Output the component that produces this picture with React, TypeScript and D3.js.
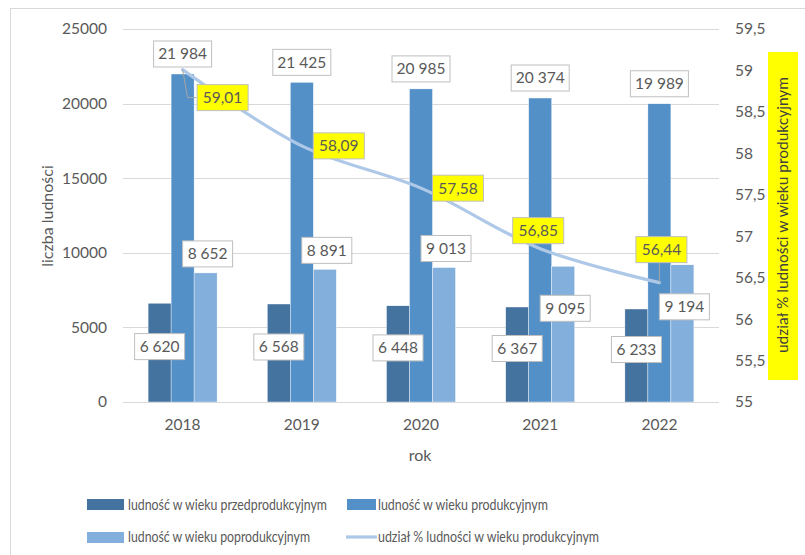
import React from "react";
import * as d3 from "d3";

const years = ["2018", "2019", "2020", "2021", "2022"];
const preProd = [6620, 6568, 6448, 6367, 6233];
const prod = [21984, 21425, 20985, 20374, 19989];
const postProd = [8652, 8891, 9013, 9095, 9194];
const prodShare = [59.01, 58.09, 57.58, 56.85, 56.44];
const leftTicks = [0, 5000, 10000, 15000, 20000, 25000];
const rightTicks = [55, 55.5, 56, 56.5, 57, 57.5, 58, 58.5, 59, 59.5];
const seriesNames = [
  "ludność w wieku przedprodukcyjnym",
  "ludność w wieku produkcyjnym",
  "ludność w wieku poprodukcyjnym",
  "udział % ludności w wieku produkcyjnym",
];
const leftTitle = "liczba ludności";
const rightTitle = "udział % ludności w wieku produkcyjnym";
const xTitle = "rok";

// styling / label placement (not data)
const sharePlacement = ["rightBelow", "right", "right", "above", "aboveFar"];
const postInside = [false, false, false, true, true];
const legendTextWidths = [199, 170, 182, 221];

const FONT = "Lato, 'Open Sans', sans-serif";
const TXT = "#595959";
const C_DARK = "#44739f";
const C_MID = "#5490c8";
const C_LIGHT = "#83afdc";
const C_LINE = "#aec8e8";
const GRID = "#d9d9d9";

const fmtInt = (v: number) =>
  String(v).replace(/\B(?=(\d{3})+(?!\d))/g, " ");
const fmtDec = (v: number, d: number) => v.toFixed(d).replace(".", ",");
const fmtTick = (v: number) => (Number.isInteger(v) ? String(v) : fmtDec(v, 1));

function LabelBox({ cx, cy, text, fill = "#fff", w }: { cx: number; cy: number; text: string; fill?: string; w?: number }) {
  const width = w ?? text.length * 8.2 + 10;
  const h = 26;
  return (
    <g>
      <rect x={cx - width / 2} y={cy - h / 2} width={width} height={h} fill={fill} stroke="#bfbfbf" strokeWidth={1} />
      <text x={cx} y={cy} dy="0.35em" textAnchor="middle" fontSize={15.5} fill={TXT} fontFamily={FONT}>
        {text}
      </text>
    </g>
  );
}

export default function App() {
  const W = 805, H = 555;
  const x = d3.scaleBand<string>().domain(years).range([123, 719]);
  const yL = d3.scaleLinear().domain([0, 25000]).range([402, 29]);
  const yR = d3.scaleLinear().domain([55, 59.5]).range([402, 29]);
  const bw = 23;
  const cx = (i: number) => (x(years[i]) as number) + x.bandwidth() / 2;
  const series = [preProd, prod, postProd];
  const colors = [C_DARK, C_MID, C_LIGHT];

  const linePts: [number, number][] = prodShare.map((v, i) => [cx(i), yR(v)]);
  const lineGen = d3.line().curve(d3.curveCatmullRom.alpha(0.5));
  const leg = (i: number) => ({ fontSize: 14.5, textLength: legendTextWidths[i], lengthAdjust: "spacingAndGlyphs" });

  return (
    <svg width={W} height={H} style={{ position: "absolute", left: 0, top: 0 }} fontFamily={FONT}>
      <rect x={0} y={0} width={W} height={H} fill="#fff" />
      <rect x={10.5} y={8.5} width={W} height={H} fill="none" stroke={GRID} strokeWidth={1} />
      {/* gridlines */}
      {leftTicks.map((t) => (
        <line key={t} x1={123} x2={719} y1={Math.round(yL(t)) + 0.5} y2={Math.round(yL(t)) + 0.5} stroke={GRID} strokeWidth={1} />
      ))}
      {/* left ticks */}
      {leftTicks.map((t) => (
        <text key={"l" + t} x={107} y={yL(t)} dy="0.35em" textAnchor="end" fontSize={15.5} fill={TXT}>
          {t}
        </text>
      ))}
      {/* right ticks */}
      {rightTicks.map((t) => (
        <text key={"r" + t} x={735} y={yR(t)} dy="0.35em" textAnchor="start" fontSize={15.5} fill={TXT}>
          {fmtTick(t)}
        </text>
      ))}
      {/* x ticks */}
      {years.map((yv, i) => (
        <text key={yv} x={cx(i)} y={425} dy="0.35em" textAnchor="middle" fontSize={15.5} fill={TXT}>
          {yv}
        </text>
      ))}
      {/* bars */}
      {series.map((s, si) =>
        s.map((v, i) => (
          <rect key={si + "-" + i} x={cx(i) + (si - 1.5) * bw} y={yL(v)} width={bw} height={yL(0) - yL(v)} fill={colors[si]} stroke="#fff" strokeWidth={0.4} />
        ))
      )}
      {/* line */}
      <path d={lineGen(linePts) || ""} fill="none" stroke={C_LINE} strokeWidth={3.2} strokeLinecap="round" />
      {/* leader lines */}
      {prodShare.map((v, i) => {
        const [px, py] = linePts[i];
        if (sharePlacement[i] === "rightBelow")
          return <polyline key={"ld" + i} points={`${px},${py} ${px + 5},${py + 28} ${px + 14},${py + 28}`} fill="none" stroke="#a6a6a6" strokeWidth={1} />;
        if (sharePlacement[i] === "aboveFar")
          return <line key={"ld" + i} x1={px} x2={px} y1={py} y2={py - 20} stroke="#a6a6a6" strokeWidth={1} />;
        return null;
      })}
      {/* axis baseline */}
      <line x1={123} x2={719} y1={402.5} y2={402.5} stroke={GRID} strokeWidth={1} />
      {/* data labels: pre */}
      {preProd.map((v, i) => (
        <LabelBox key={"pl" + i} cx={cx(i) - bw} cy={(yL(v) + yL(0)) / 2 - 6} text={fmtInt(v)} w={50} />
      ))}
      {/* prod */}
      {prod.map((v, i) => (
        <LabelBox key={"ml" + i} cx={cx(i)} cy={yL(v) - 20} text={fmtInt(v)} w={58} />
      ))}
      {/* post */}
      {postProd.map((v, i) => (
        <LabelBox key={"ol" + i} cx={cx(i) + bw + 2} cy={postInside[i] ? yL(v) + 42 : yL(v) - 19} text={fmtInt(v)} w={50} />
      ))}
      {/* share labels */}
      {prodShare.map((v, i) => {
        const [px, py] = linePts[i];
        const p = sharePlacement[i];
        let lx = px, ly = py;
        if (p === "rightBelow") { lx = px + 40; ly = py + 28; }
        else if (p === "right") { lx = px + 37; ly = py; }
        else if (p === "above") { lx = px - 2; ly = py - 18; }
        else if (p === "aboveFar") { lx = px + 2; ly = py - 33; }
        return <LabelBox key={"sl" + i} cx={lx} cy={ly} text={fmtDec(v, 2)} fill="#ffff00" w={51} />;
      })}
      {/* axis titles */}
      <text transform="translate(47,216) rotate(-90)" textAnchor="middle" dy="0.35em" fontSize={16} fill={TXT}>
        {leftTitle}
      </text>
      <text x={420} y={455} dy="0.35em" textAnchor="middle" fontSize={16} fill={TXT}>
        {xTitle}
      </text>
      <rect x={768} y={52} width={30} height={328} fill="#ffff00" />
      <text transform="translate(783,215) rotate(-90)" textAnchor="middle" dy="0.35em" fontSize={15.5} fill="#404040">
        {rightTitle}
      </text>
      {/* legend */}
      <rect x={87} y={499} width={37} height={11} fill={C_DARK} />
      <text x={128} y={505} dy="0.35em" {...leg(0)} fill={TXT}>{seriesNames[0]}</text>
      <rect x={347} y={499} width={29} height={11} fill={C_MID} />
      <text x={378} y={505} dy="0.35em" {...leg(1)} fill={TXT}>{seriesNames[1]}</text>
      <rect x={87} y={532} width={37} height={11} fill={C_LIGHT} />
      <text x={128} y={537} dy="0.35em" {...leg(2)} fill={TXT}>{seriesNames[2]}</text>
      <line x1={346} x2={377} y1={537} y2={537} stroke={C_LINE} strokeWidth={3.2} />
      <text x={378} y={537} dy="0.35em" {...leg(3)} fill={TXT}>{seriesNames[3]}</text>
    </svg>
  );
}
